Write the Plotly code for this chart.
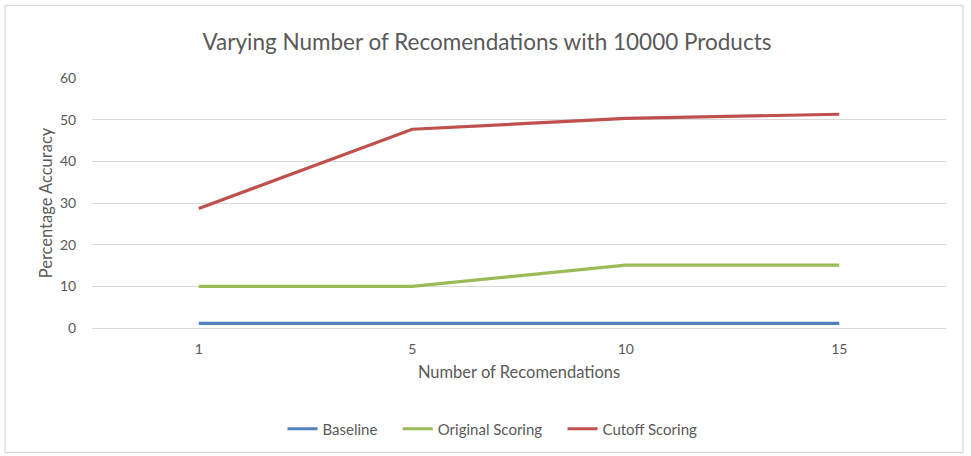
import plotly.graph_objects as go

# Recommendation counts (category axis) and accuracy per scoring method
recommendations = ["1", "5", "10", "15"]
baseline = [1.1, 1.1, 1.1, 1.1]
original_scoring = [10, 10, 15.1, 15.1]
cutoff_scoring = [28.7, 47.7, 50.3, 51.3]

y_ticks = [0, 10, 20, 30, 40, 50, 60]

FONT = "Lato, 'Open Sans', sans-serif"
TEXT = "#595959"
GRID = "#d9d9d9"

series = [
    ("Baseline", baseline, "#4F81BD"),
    ("Original Scoring", original_scoring, "#9BBB59"),
    ("Cutoff Scoring", cutoff_scoring, "#C0504D"),
]

fig = go.Figure()
for name, values, color in series:
    fig.add_trace(go.Scatter(
        x=recommendations, y=values, name=name + "    ", mode="lines",
        line=dict(color=color, width=3.2),
    ))

W, H = 971, 456
L, R, T, B = 92, 25, 78, 127
pw, ph = W - L - R, H - T - B

def px_x(p):
    return (p - L) / pw

def px_y(p):
    return (H - B - p) / ph

fig.update_layout(
    width=W, height=H,
    margin=dict(l=L, r=R, t=T, b=B),
    paper_bgcolor="white", plot_bgcolor="white",
    font=dict(family=FONT, color=TEXT, size=14),
    title=dict(
        text="Varying Number of Recomendations with 10000 Products",
        x=px_x(487), xref="paper", xanchor="center",
        y=1 - 42 / H, yref="container", yanchor="middle",
        font=dict(size=22.5, color=TEXT, family=FONT),
    ),
    xaxis=dict(
        type="category", range=[-0.5, 3.5],
        showgrid=False, zeroline=False, showline=False,
        ticks="outside", ticklen=8, tickcolor="rgba(0,0,0,0)",
        tickfont=dict(size=14, color=TEXT),
        title=dict(text="Number of Recomendations", font=dict(size=16.5, color=TEXT), standoff=10),
        fixedrange=True,
    ),
    yaxis=dict(
        range=[0, 60], tickvals=y_ticks,
        showgrid=True, gridcolor=GRID, gridwidth=1,
        zeroline=True, zerolinecolor=GRID, zerolinewidth=1,
        showline=False,
        ticks="outside", ticklen=12, tickcolor="rgba(0,0,0,0)",
        tickfont=dict(size=14, color=TEXT),
        title=dict(text="Percentage Accuracy", font=dict(size=16.5, color=TEXT), standoff=3),
        fixedrange=True,
    ),
    legend=dict(
        orientation="h", x=px_x(500), xanchor="center",
        y=px_y(429), yanchor="middle",
        font=dict(size=15, color=TEXT),
        itemwidth=30, tracegroupgap=0,
        bgcolor="rgba(0,0,0,0)",
    ),
    showlegend=True,
    shapes=[dict(
        type="rect", xref="paper", yref="paper",
        x0=px_x(5), x1=px_x(963), y0=px_y(454), y1=px_y(5),
        line=dict(color="#d0d0d0", width=1), fillcolor="rgba(0,0,0,0)",
        layer="below",
    )],
)

fig.write_html("out.html")
